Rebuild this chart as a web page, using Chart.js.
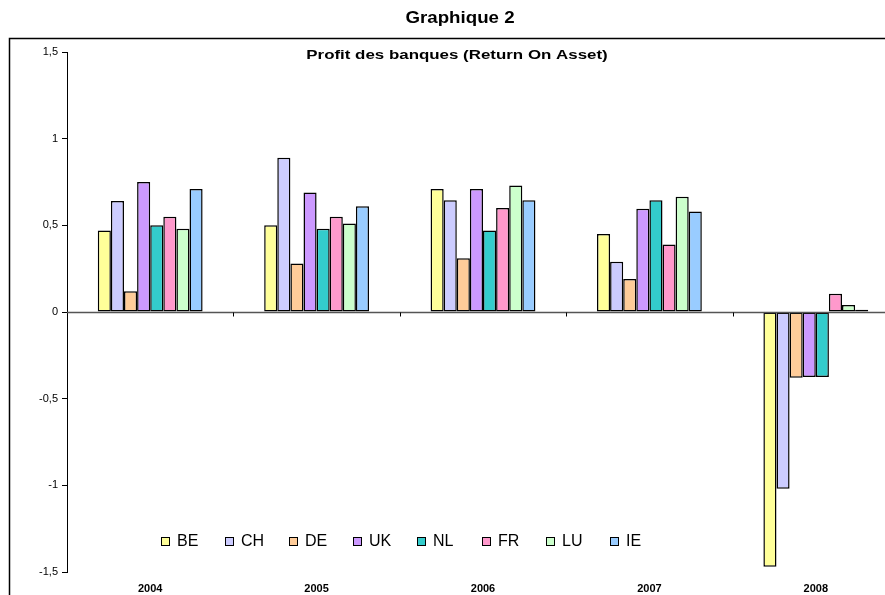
<!DOCTYPE html>
<html>
<head>
<meta charset="utf-8">
<script src="https://cdn.jsdelivr.net/npm/chart.js@4/dist/chart.umd.min.js"></script>
<style>
  html, body { margin: 0; padding: 0; background: #fff; overflow: hidden; width: 885px; height: 595px; }
  #wrap { position: absolute; left: 0; top: 0; width: 930px; height: 600px; }
</style>
</head>
<body>
<div id="wrap"><canvas id="c" width="930" height="600"></canvas></div>
<script>
const years = ['2004', '2005', '2006', '2007', '2008'];
const countries = ['BE', 'CH', 'DE', 'UK', 'NL', 'FR', 'LU', 'IE'];
const BE = [0.47, 0.50, 0.71, 0.45, -1.47];
const CH = [0.64, 0.89, 0.645, 0.29, -1.02];
const DE = [0.12, 0.28, 0.31, 0.19, -0.38];
const UK = [0.75, 0.69, 0.71, 0.595, -0.375];
const NL = [0.50, 0.48, 0.47, 0.645, -0.375];
const FR = [0.55, 0.55, 0.60, 0.39, 0.105];
const LU = [0.48, 0.51, 0.73, 0.665, 0.04];
const IE = [0.71, 0.61, 0.645, 0.58, 0.013];
const seriesValues = [BE, CH, DE, UK, NL, FR, LU, IE];
const colors = ['#FFFF99', '#CCCCFF', '#FFCC99', '#CC99FF', '#33CCCC', '#FF99CC', '#CCFFCC', '#99CCFF'];
const yTicks = [-1.5, -1, -0.5, 0, 0.5, 1, 1.5];
const chartTitle = 'Graphique 2';
const chartSubtitle = 'Profit des banques (Return On Asset)';

const FONT = '"Liberation Sans", Arial, sans-serif';

function stretchedText(ctx, text, cx, cy, font, sx) {
  ctx.save();
  ctx.font = font;
  ctx.translate(cx, cy);
  ctx.scale(sx, 1);
  ctx.textAlign = 'center';
  ctx.textBaseline = 'middle';
  ctx.fillText(text, 0, 0);
  ctx.restore();
}

const decorPlugin = {
  id: 'decor',
  beforeDraw(chart) {
    const ctx = chart.ctx;
    ctx.save();
    ctx.strokeStyle = '#000';
    ctx.lineWidth = 1.5;
    ctx.beginPath();
    ctx.moveTo(chart.width + 5, 38.5);
    ctx.lineTo(9.5, 38.5);
    ctx.lineTo(9.5, chart.height + 5);
    ctx.stroke();
    ctx.fillStyle = '#000';
    stretchedText(ctx, chartTitle, 460, 18, 'bold 17px ' + FONT, 1.1);
    stretchedText(ctx, chartSubtitle, 457, 55, 'bold 13px ' + FONT, 1.3);
    ctx.restore();
  },
  afterDatasetsDraw(chart) {
    const ctx = chart.ctx;
    const x = chart.scales.x, y = chart.scales.y;
    const y0 = Math.round(y.getPixelForValue(0)) + 0.5;
    ctx.save();
    ctx.strokeStyle = '#555';
    ctx.lineWidth = 1.5;
    ctx.beginPath();
    ctx.moveTo(chart.chartArea.left, y0);
    ctx.lineTo(chart.chartArea.right, y0);
    ctx.stroke();
    ctx.strokeStyle = '#000';
    ctx.lineWidth = 1;
    const n = years.length;
    for (let i = 1; i < n; i++) {
      const bx = Math.round((x.getPixelForValue(i - 1) + x.getPixelForValue(i)) / 2) + 0.5;
      ctx.beginPath();
      ctx.moveTo(bx, y0);
      ctx.lineTo(bx, y0 + 4);
      ctx.stroke();
    }
    // legend
    const startX = 161, stepX = 64.1, cy = 541;
    ctx.font = '16px ' + FONT;
    ctx.textAlign = 'left';
    ctx.textBaseline = 'middle';
    chart.data.datasets.forEach((ds, i) => {
      const bx = Math.round(startX + i * stepX);
      ctx.fillStyle = ds.backgroundColor;
      ctx.fillRect(bx, cy - 4, 8, 8);
      ctx.strokeStyle = '#000';
      ctx.lineWidth = 1;
      ctx.strokeRect(bx + 0.5, cy - 3.5, 8, 8);
      ctx.fillStyle = '#000';
      ctx.fillText(ds.label, bx + 16, cy + 1);
    });
    ctx.restore();
  }
};

new Chart(document.getElementById('c'), {
  type: 'bar',
  data: {
    labels: years,
    datasets: countries.map((c, i) => ({
      label: c,
      data: seriesValues[i],
      backgroundColor: colors[i],
      borderColor: '#000',
      borderWidth: 1.5,
      borderSkipped: false,
      barPercentage: 1.0,
      categoryPercentage: 0.63
    }))
  },
  options: {
    responsive: false,
    devicePixelRatio: 1,
    animation: false,
    layout: { padding: { left: 0, top: 52, right: 31, bottom: 0 } },
    plugins: {
      legend: { display: false },
      title: { display: false },
      tooltip: { enabled: false }
    },
    scales: {
      x: {
        position: 'bottom',
        grid: { display: false, drawTicks: false },
        border: { display: false },
        ticks: {
          color: '#000',
          font: { family: FONT, size: 11, weight: 'bold' },
          padding: 10,
          maxRotation: 0
        },
        afterFit(scale) { scale.height = 28; }
      },
      y: {
        min: -1.5,
        max: 1.5,
        afterBuildTicks(scale) { scale.ticks = yTicks.map(v => ({ value: v })); },
        grid: { drawOnChartArea: false, drawTicks: true, tickLength: 5, color: '#000' },
        border: { display: true, color: '#000', width: 1 },
        ticks: {
          color: '#000',
          font: { family: FONT, size: 11 },
          padding: 4,
          callback: v => String(v).replace('.', ',')
        },
        afterFit(scale) { scale.width = 67; }
      }
    }
  },
  plugins: [decorPlugin]
});
</script>
</body>
</html>
